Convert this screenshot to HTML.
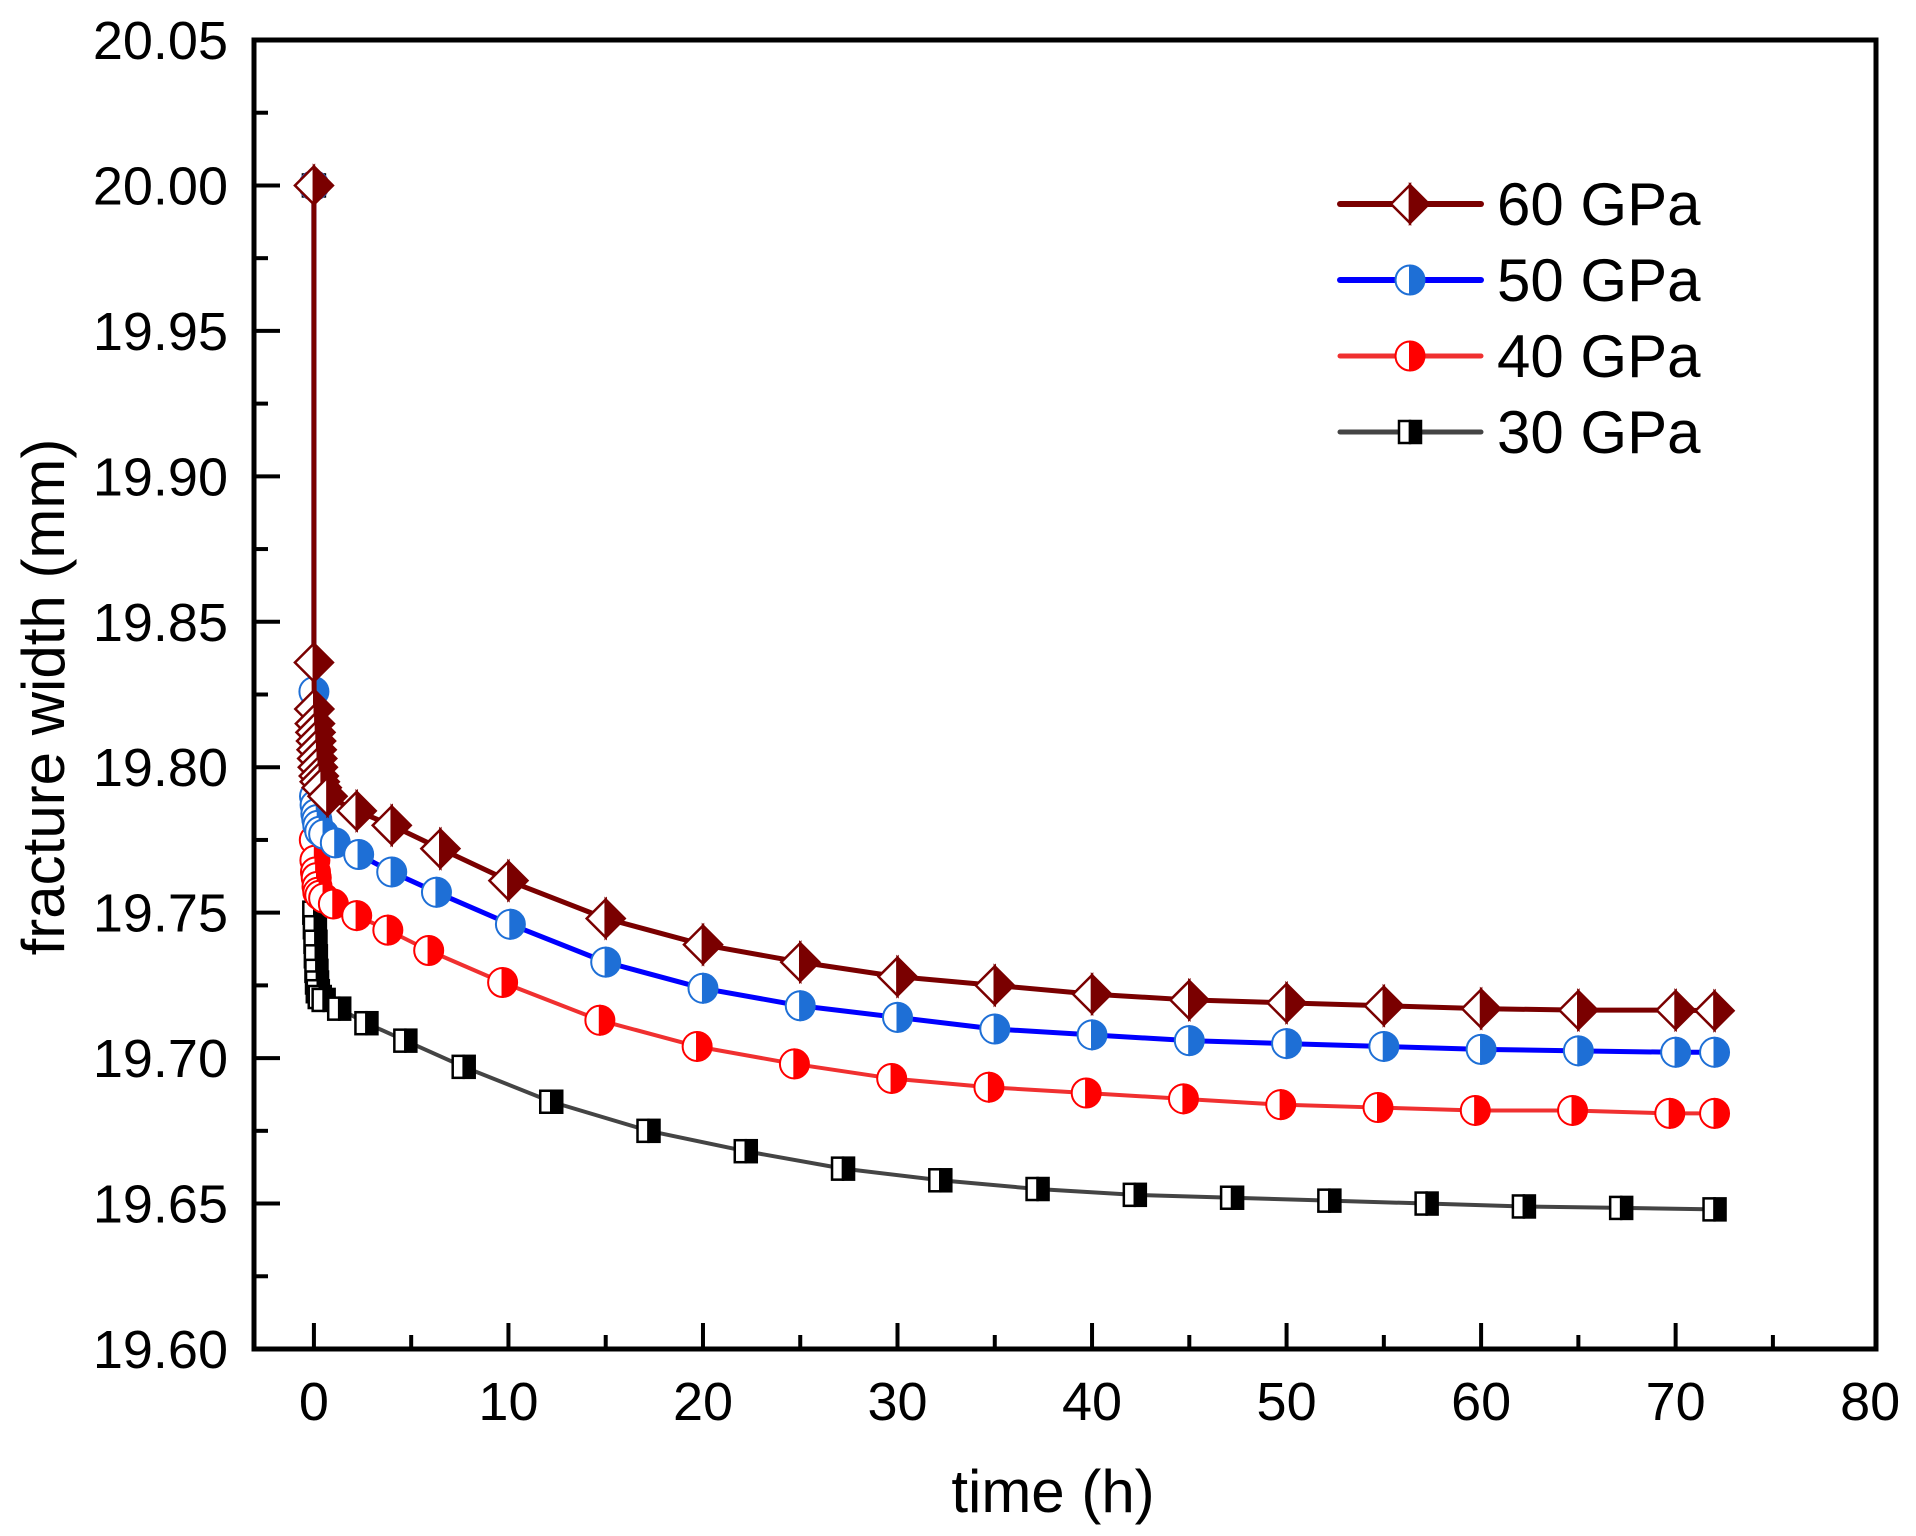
<!DOCTYPE html>
<html><head><meta charset="utf-8"><style>
html,body{margin:0;padding:0;background:#fff;}
svg{display:block;font-family:"Liberation Sans",Arial,sans-serif;}
</style></head><body>
<svg id="chart" width="1916" height="1536" viewBox="0 0 1916 1536" xmlns="http://www.w3.org/2000/svg"></svg>
<script>
const xTicks=[0,10,20,30,40,50,60,70,80];
const yTicks=[19.60,19.65,19.70,19.75,19.80,19.85,19.90,19.95,20.00,20.05];
const seriesNames=["60 GPa","50 GPa","40 GPa","30 GPa"];
const t60=[0,0,0.02,0.05,0.08,0.11,0.14,0.17,0.2,0.25,0.3,0.4,0.7,2.2,4,6.5,10,15,20,25,30,35,40,45,50,55,60,65,70,72];
const v60=[20.0,19.836,19.82,19.815,19.812,19.809,19.806,19.803,19.80,19.797,19.795,19.793,19.79,19.785,19.78,19.772,19.761,19.748,19.739,19.733,19.728,19.725,19.722,19.720,19.719,19.718,19.717,19.7165,19.7165,19.7163];
const t50=[0,0,0.03,0.06,0.1,0.15,0.2,0.3,0.5,1.1,2.3,4,6.3,10.1,15,20,25,30,35,40,45,50,55,60,65,70,72];
const v50=[20.0,19.826,19.79,19.787,19.784,19.782,19.78,19.778,19.777,19.774,19.770,19.764,19.757,19.746,19.733,19.724,19.718,19.714,19.710,19.708,19.706,19.705,19.704,19.703,19.7025,19.702,19.702];
const t40=[0,0.02,0.05,0.08,0.12,0.16,0.2,0.3,0.5,1,2.2,3.8,5.9,9.7,14.7,19.7,24.7,29.7,34.7,39.7,44.7,49.7,54.7,59.7,64.7,69.7,72];
const v40=[20.0,19.775,19.768,19.764,19.762,19.759,19.757,19.756,19.755,19.753,19.749,19.744,19.737,19.726,19.713,19.704,19.698,19.693,19.690,19.688,19.686,19.684,19.683,19.682,19.682,19.681,19.681];
const t30=[0,0.02,0.05,0.08,0.1,0.13,0.16,0.2,0.3,0.5,1.3,2.7,4.7,7.7,12.2,17.2,22.2,27.2,32.2,37.2,42.2,47.2,52.2,57.2,62.2,67.2,72];
const v30=[20.0,19.75,19.745,19.74,19.735,19.73,19.726,19.723,19.721,19.720,19.717,19.712,19.706,19.697,19.685,19.675,19.668,19.662,19.658,19.655,19.653,19.652,19.651,19.650,19.649,19.6485,19.648];

const NS="http://www.w3.org/2000/svg";
const svg=document.getElementById('chart');
const L=254,R=1876,T=40,B=1349,XMIN=-3.08,XMAX=80.3,YMIN=19.60,YMAX=20.05;
const sx=x=>L+(x-XMIN)/(XMAX-XMIN)*(R-L);
const sy=y=>B-(y-YMIN)/(YMAX-YMIN)*(B-T);
function el(tag,attrs,parent){const e=document.createElementNS(NS,tag);for(const k in attrs)e.setAttribute(k,attrs[k]);(parent||svg).appendChild(e);return e;}

const axes=el('g',{});


yTicks.forEach((v,i)=>{
  const y=sy(v);
  const tk=el('line',{x1:L,x2:L+26,y1:y,y2:y,stroke:'#000','stroke-width':4},axes);
  
  
  if(i<yTicks.length-1){const ym=sy(v+0.025);const m=el('line',{x1:L,x2:L+14,y1:ym,y2:ym,stroke:'#000','stroke-width':4},axes);
  
  }
  const tx=el('text',{x:228,y:y+19,'font-size':54,'text-anchor':'end',fill:'#000'},axes);
  
  
  tx.textContent=v.toFixed(2);
});
xTicks.forEach((v,i)=>{
  const x=sx(v);
  if(v<80){const tk=el('line',{x1:x,x2:x,y1:B,y2:B-26,stroke:'#000','stroke-width':4},axes);
  
  }
  if(i<xTicks.length-1){const xm=sx(v+5);const m=el('line',{x1:xm,x2:xm,y1:B,y2:B-14,stroke:'#000','stroke-width':4},axes);
  
  }
  const tx=el('text',{x:x,y:1420,'font-size':54,'text-anchor':'middle',fill:'#000'},axes);
  
  
  tx.textContent=v;
});
const frame=el('rect',{x:L,y:T,width:R-L,height:B-T,fill:'none',stroke:'#000','stroke-width':5},axes);


const xt=el('text',{x:1053,y:1512,'font-size':60,'text-anchor':'middle'},axes);


xt.textContent='time (h)';
const yt=el('text',{x:0,y:0,'font-size':60,'text-anchor':'middle',transform:'translate(64,697) rotate(-90)'},axes);


yt.textContent='fracture width (mm)';

function marker(g,kind,x,y,color,fill){
  if(kind==='diamond'){
    const s=19;
    el('polygon',{points:`${x},${y-s} ${x-s},${y} ${x},${y+s}`,fill:'#fff',stroke:color,'stroke-width':2.5},g);
    el('polygon',{points:`${x},${y-s} ${x+s},${y} ${x},${y+s}`,fill:color,stroke:color,'stroke-width':2.5},g);
  }else if(kind==='circle'){
    const r=14.5;
    el('path',{d:`M${x},${y-r} A${r},${r} 0 0 0 ${x},${y+r} Z`,fill:'#fff',stroke:fill,'stroke-width':2},g);
    el('path',{d:`M${x},${y-r} A${r},${r} 0 0 1 ${x},${y+r} Z`,fill:fill,stroke:fill,'stroke-width':2},g);
  }else{
    const s=11;
    el('rect',{x:x-s,y:y-s,width:s,height:2*s,fill:'#fff',stroke:'#000','stroke-width':2.5},g);
    el('rect',{x:x,y:y-s,width:s,height:2*s,fill:'#000',stroke:'#000','stroke-width':2.5},g);
  }
}
const defs=[
  {t:t30,v:v30,line:'#444',mk:'square',fill:'#000',w:4},
  {t:t40,v:v40,line:'#f03030',mk:'circle',fill:'#f00',w:4},
  {t:t50,v:v50,line:'#0000ff',mk:'circle',fill:'#1e6fd6',w:5},
  {t:t60,v:v60,line:'#7a0000',mk:'diamond',fill:'#7a0000',w:5}
];
const names=['series-30gpa','series-40gpa','series-50gpa','series-60gpa'];
defs.forEach((d,i)=>{
  const g=el('g',{});
  
  
  const pts=d.t.map((t,j)=>sx(t)+','+sy(d.v[j])).join(' ');
  const pl=el('polyline',{points:pts,fill:'none',stroke:d.line,'stroke-width':d.w,'stroke-linejoin':'round'},g);
  
  
  const mc=d.mk==='circle'?d.fill:d.line;
  d.t.forEach((t,j)=>marker(g,d.mk,sx(t),sy(d.v[j]),d.mk==='diamond'?d.line:'#000',mc));
});
const leg=el('g',{});


const legDefs=[defs[3],defs[2],defs[1],defs[0]];
const legY=[204,280,356,432];
legDefs.forEach((d,i)=>{
  const g=el('g',{},leg);
  
  
  el('line',{x1:1340,x2:1481,y1:legY[i],y2:legY[i],stroke:d.line,'stroke-width':d.w+1,'stroke-linecap':'round'},g);
  marker(g,d.mk,1410,legY[i],d.mk==='diamond'?d.line:'#000',d.mk==='circle'?d.fill:d.line);
  const tx=el('text',{x:1497,y:legY[i]+21,'font-size':60,fill:'#000'},g);
  
  
  tx.textContent=seriesNames[i];
});
</script>
</body></html>
